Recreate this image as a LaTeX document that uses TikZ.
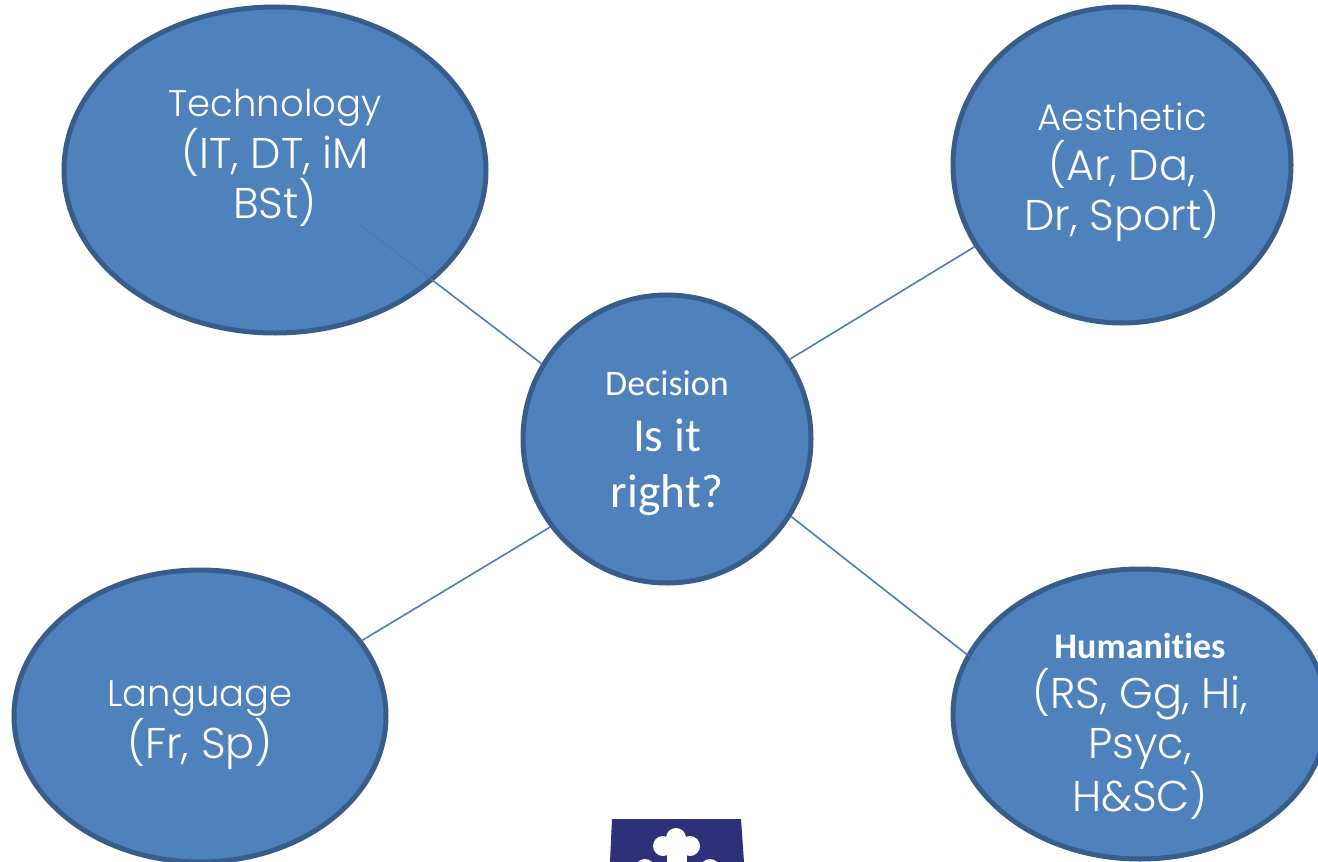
\documentclass[tikz,border=0pt]{standalone}
\usepackage{fontspec}
\usepackage{xcolor}
\setmainfont{Poppins}[UprightFont=* Light]
\newfontfamily\deciFont{Carlito}[Ligatures=CommonOff]
\definecolor{bubbleFill}{HTML}{4F81BD}
\definecolor{bubbleEdge}{HTML}{385D8A}
\definecolor{linkBlue}{HTML}{4A7EBB}
\definecolor{crestBlue}{HTML}{2E3079}
\usetikzlibrary{shapes.geometric}
\newcommand{\headLine}[1]{{\fontsize{18.5}{25}\selectfont #1}}
\tikzset{
    bubble/.style={draw=bubbleEdge, fill=bubbleFill, ellipse, line width=2.5pt, inner sep=0pt,
        text=white, align=center, font=\fontsize{21.5}{25}\selectfont},
    link/.style={draw=linkBlue, line width=0.8pt},
    faintlink/.style={draw=bubbleEdge!25!bubbleFill, line width=0.5pt}
}
\begin{document}
\begin{tikzpicture}[x=0.5pt,y=-0.5pt]
    \useasboundingbox (0,0) rectangle (1318,862);

    \node[bubble, minimum width=211pt, minimum height=163pt] (tech) at (275,170)
        {\headLine{Technology}\\(IT, DT, iM\\BSt)\\[-9pt]\mbox{}};
    \node[bubble, minimum width=169pt, minimum height=158pt] (aes) at (1122,165)
        {\mbox{}\\[-4pt]\headLine{Aesthetic}\\(Ar, Da,\\Dr, Sport)};
    \node[bubble, minimum width=144pt, minimum height=144pt, font=\deciFont\fontsize{23.7}{28}\selectfont] (deci) at (667,439)
        {\mbox{}\\[-11pt]{\fontsize{18}{22}\selectfont Decision}\\Is it\\right?};
    \node[bubble, minimum width=186pt, minimum height=146pt] (lang) at (200,716)
        {\mbox{}\\[-3pt]\headLine{Language}\\(Fr, Sp)};
    \node[bubble, minimum width=187pt, minimum height=145pt, inner ysep=-12pt] (hum) at (1140,714)
        {\mbox{}\\{\deciFont\bfseries\fontsize{18}{25}\selectfont Humanities}\\(RS, Gg, Hi,\\Psyc,\\H\&SC)};

    \coordinate (techEnd) at (360,225);
    \coordinate (humEnd) at (979,662);
    \draw[link] (tech.-35) -- (deci.149);
    \draw[faintlink] (techEnd) -- (tech.-35);
    \draw[link] (aes.209) -- (deci.33);
    \draw[link] (deci.-32) -- (hum.161);
    \draw[faintlink] (hum.161) -- (humEnd);
    \draw[link] (deci.217) -- (lang.25);

    % crest, cut off by the page
    \fill[crestBlue] (612,819) -- (741,819) -- (744,862) -- (610,862) -- cycle;
    \fill[white] (676,838) circle[radius=10] (663,846) circle[radius=10] (690,846) circle[radius=10]
        (645,869) circle[radius=10] (710,869) circle[radius=10];
    \fill[white] (667,846) rectangle (687,862);
\end{tikzpicture}
\end{document}
